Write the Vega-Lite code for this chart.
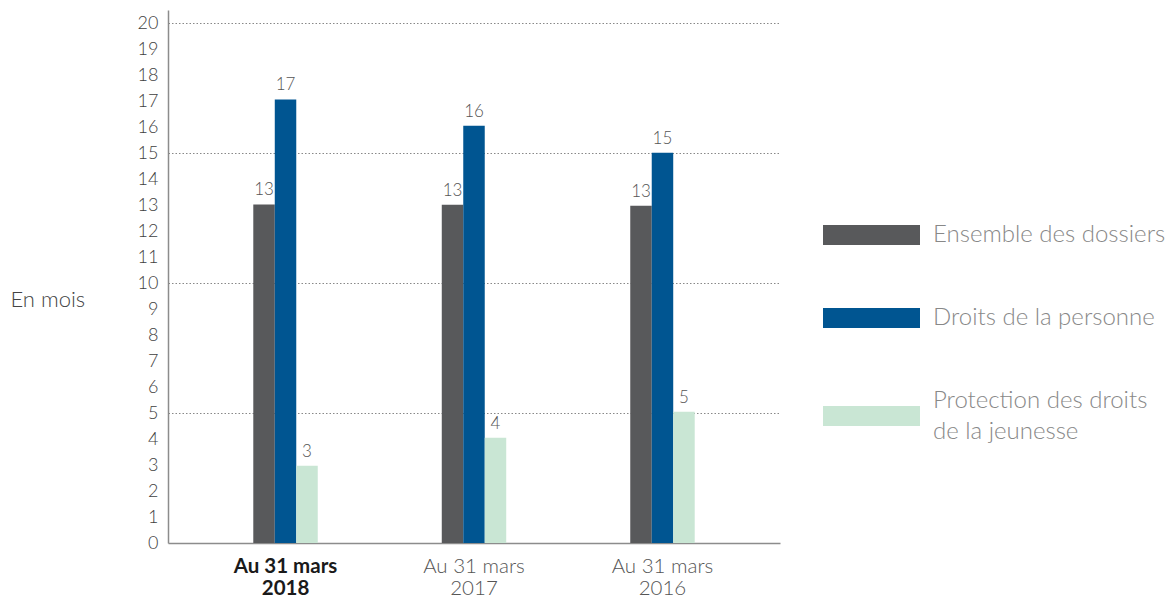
{
  "$schema": "https://vega.github.io/schema/vega-lite/v6.json",
  "width": 612,
  "height": 533,
  "autosize": {"type": "none"},
  "padding": {"left": 168, "top": 10, "right": 393, "bottom": 58},
  "background": "white",
  "config": {"view": {"stroke": null}, "font": "Lato"},
  "data": {
    "values": [
      {"periode": "Au 31 mars 2018", "serie": "Ensemble des dossiers", "valeur": 13.02},
      {"periode": "Au 31 mars 2018", "serie": "Droits de la personne", "valeur": 17.06},
      {"periode": "Au 31 mars 2018", "serie": "Protection des droits de la jeunesse", "valeur": 2.97},
      {"periode": "Au 31 mars 2017", "serie": "Ensemble des dossiers", "valeur": 13.01},
      {"periode": "Au 31 mars 2017", "serie": "Droits de la personne", "valeur": 16.05},
      {"periode": "Au 31 mars 2017", "serie": "Protection des droits de la jeunesse", "valeur": 4.05},
      {"periode": "Au 31 mars 2016", "serie": "Ensemble des dossiers", "valeur": 12.97},
      {"periode": "Au 31 mars 2016", "serie": "Droits de la personne", "valeur": 15.01},
      {"periode": "Au 31 mars 2016", "serie": "Protection des droits de la jeunesse", "valeur": 5.05}
    ]
  },
  "encoding": {
    "x": {
      "field": "periode",
      "type": "nominal",
      "sort": null,
      "scale": {"paddingInner": 0.658, "paddingOuter": 0.4525},
      "axis": {
        "title": null,
        "labelAngle": 0,
        "ticks": false,
        "domainColor": "#8c8c8c",
        "domainWidth": 1.5,
        "labelFont": "Lato",
        "labelFontSize": 20.5,
        "labelPadding": 13,
        "labelLineHeight": 22.5,
        "labelExpr": "['Au 31 mars', slice(datum.label, -4)]",
        "labelFontWeight": {"condition": {"test": "datum.value == 'Au 31 mars 2018'", "value": "bold"}, "value": 300},
        "labelColor": {"condition": {"test": "datum.value == 'Au 31 mars 2018'", "value": "#1a1a1a"}, "value": "#555555"}
      }
    },
    "xOffset": {
      "field": "serie",
      "type": "nominal",
      "sort": ["Ensemble des dossiers", "Droits de la personne", "Protection des droits de la jeunesse"],
      "scale": {"paddingInner": 0, "paddingOuter": 0}
    },
    "y": {
      "field": "valeur",
      "type": "quantitative",
      "scale": {"domain": [0, 20.5], "nice": false},
      "axis": {
        "values": [0, 1, 2, 3, 4, 5, 6, 7, 8, 9, 10, 11, 12, 13, 14, 15, 16, 17, 18, 19, 20],
        "title": "En mois",
        "titleAngle": 0,
        "titleAlign": "left",
        "titleBaseline": "middle",
        "titleX": -158,
        "titleY": 289,
        "titleFont": "Lato",
        "titleFontSize": 22,
        "titleFontWeight": 300,
        "titleColor": "#444444",
        "ticks": false,
        "domainColor": "#8c8c8c",
        "domainWidth": 1.5,
        "labelPadding": 10,
        "labelFont": "Lato",
        "labelFontSize": 18,
        "labelFontWeight": 300,
        "labelColor": "#3f3f3f",
        "grid": true,
        "gridDash": [1.5, 2],
        "gridColor": "#888888",
        "gridOpacity": {"condition": {"test": "datum.value % 5 == 0 && datum.value > 0", "value": 1}, "value": 0}
      }
    }
  },
  "layer": [
    {
      "mark": {"type": "bar"},
      "encoding": {
        "color": {
          "field": "serie",
          "type": "nominal",
          "scale": {
            "domain": ["Ensemble des dossiers", "Droits de la personne", "Protection des droits de la jeunesse"],
            "range": ["#58595b", "#005591", "#c9e6d4"]
          },
          "legend": {
            "orient": "none",
            "legendX": 655,
            "legendY": 213.5,
            "title": null,
            "padding": 0,
            "symbolType": "M-1,-0.206H1V0.206H-1Z",
            "symbolSize": 9409,
            "symbolStrokeWidth": 0,
            "symbolOpacity": 1,
            "labelOffset": 13,
            "labelFont": "Lato",
            "labelFontSize": 24,
            "labelFontWeight": 300,
            "labelColor": "#888888",
            "labelLimit": 400,
            "rowPadding": 58,
            "labelExpr": "datum.label == 'Protection des droits de la jeunesse' ? ['Protection des droits', 'de la jeunesse'] : datum.label",
            "encode": {
              "symbols": {"update": {"y": {"value": 11.5}}},
              "labels": {
                "update": {
                  "y": {"value": 11.5},
                  "lineHeight": {"value": 31},
                  "dy": {"signal": "datum.value == 'Protection des droits de la jeunesse' ? -15.5 : 0"}
                }
              }
            }
          }
        }
      }
    },
    {
      "mark": {"type": "text", "dy": -9, "baseline": "alphabetic", "font": "Lato", "fontSize": 17, "fontWeight": 300, "color": "#555555"},
      "encoding": {
        "text": {"field": "valeur", "type": "quantitative", "format": ".0f"}
      }
    }
  ]
}
